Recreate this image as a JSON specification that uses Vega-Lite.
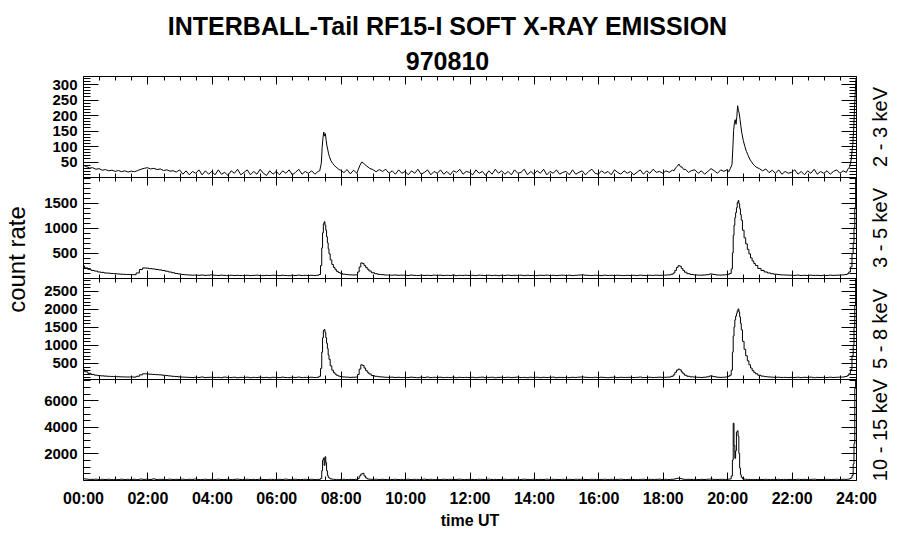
{
"$schema": "https://vega.github.io/schema/vega-lite/v6.json",
"background": "white",
"padding": {"left": 5, "top": 14, "right": 5, "bottom": 5},
"config": {
  "view": {"stroke": null},
  "font": "Liberation Sans",
  "axis": {"domainColor": "black", "tickColor": "black", "labelColor": "black", "titleColor": "black", "grid": false, "labelFont": "Liberation Sans", "titleFont": "Liberation Sans", "labelFontSize": 15, "labelFontWeight": "bold", "tickWidth": 1, "domainWidth": 1, "labels": false, "domain": false, "title": null, "labelFlush": false, "format": "d"}
},
"title": {"text": ["INTERBALL-Tail RF15-I SOFT X-RAY EMISSION", "970810"], "font": "Liberation Sans", "fontSize": 25, "fontWeight": "bold", "color": "black", "lineHeight": 35, "anchor": "middle", "frame": "bounds", "offset": 1},
"datasets": {"d": [
{"t":0.0,"a":38,"b":240,"c":320,"d":110},
{"t":0.1,"a":34,"b":200,"c":255,"d":70},
{"t":0.2,"a":29,"b":172,"c":212,"d":50},
{"t":0.3,"a":30,"b":150,"c":182,"d":45},
{"t":0.4,"a":25,"b":138,"c":162,"d":60},
{"t":0.5,"a":27,"b":120,"c":150,"d":35},
{"t":0.6,"a":22,"b":112,"c":142,"d":50},
{"t":0.7,"a":24,"b":100,"c":136,"d":40},
{"t":0.8,"a":20,"b":97,"c":130,"d":55},
{"t":0.9,"a":22,"b":90,"c":126,"d":30},
{"t":1.0,"a":18,"b":86,"c":122,"d":45},
{"t":1.1,"a":21,"b":80,"c":118,"d":30},
{"t":1.2,"a":17,"b":76,"c":115,"d":60},
{"t":1.3,"a":20,"b":72,"c":112,"d":35},
{"t":1.4,"a":16,"b":70,"c":110,"d":50},
{"t":1.5,"a":19,"b":68,"c":112,"d":40},
{"t":1.6,"a":17,"b":66,"c":108,"d":55},
{"t":1.7,"a":21,"b":100,"c":130,"d":30},
{"t":1.8,"a":25,"b":170,"c":170,"d":70},
{"t":1.9,"a":28,"b":200,"c":200,"d":45},
{"t":2.0,"a":30,"b":195,"c":196,"d":60},
{"t":2.1,"a":26,"b":186,"c":188,"d":40},
{"t":2.2,"a":28,"b":180,"c":182,"d":80},
{"t":2.3,"a":24,"b":170,"c":176,"d":35},
{"t":2.4,"a":26,"b":160,"c":170,"d":50},
{"t":2.5,"a":21,"b":150,"c":160,"d":45},
{"t":2.6,"a":23,"b":135,"c":150,"d":30},
{"t":2.7,"a":19,"b":120,"c":140,"d":60},
{"t":2.8,"a":20,"b":105,"c":130,"d":40},
{"t":2.9,"a":16,"b":90,"c":122,"d":50},
{"t":3.0,"a":23,"b":80,"c":115,"d":35},
{"t":3.1,"a":9,"b":70,"c":108,"d":60},
{"t":3.2,"a":20,"b":64,"c":104,"d":30},
{"t":3.3,"a":7,"b":60,"c":100,"d":50},
{"t":3.4,"a":18,"b":56,"c":96,"d":45},
{"t":3.5,"a":12,"b":58,"c":102,"d":70},
{"t":3.6,"a":23,"b":54,"c":98,"d":35},
{"t":3.7,"a":7,"b":60,"c":110,"d":40},
{"t":3.8,"a":20,"b":52,"c":94,"d":55},
{"t":3.9,"a":9,"b":56,"c":100,"d":30},
{"t":4.0,"a":18,"b":62,"c":105,"d":50},
{"t":4.1,"a":7,"b":54,"c":96,"d":30},
{"t":4.2,"a":23,"b":50,"c":100,"d":60},
{"t":4.3,"a":9,"b":56,"c":92,"d":40},
{"t":4.4,"a":15,"b":52,"c":108,"d":35},
{"t":4.5,"a":5,"b":48,"c":98,"d":55},
{"t":4.6,"a":20,"b":55,"c":95,"d":30},
{"t":4.7,"a":12,"b":50,"c":104,"d":45},
{"t":4.8,"a":25,"b":53,"c":90,"d":65},
{"t":4.9,"a":7,"b":49,"c":100,"d":40},
{"t":5.0,"a":15,"b":50,"c":98,"d":40},
{"t":5.1,"a":23,"b":54,"c":104,"d":55},
{"t":5.2,"a":7,"b":48,"c":92,"d":30},
{"t":5.3,"a":18,"b":52,"c":100,"d":45},
{"t":5.4,"a":9,"b":56,"c":96,"d":35},
{"t":5.5,"a":25,"b":50,"c":106,"d":60},
{"t":5.6,"a":12,"b":47,"c":94,"d":40},
{"t":5.7,"a":5,"b":53,"c":100,"d":30},
{"t":5.8,"a":20,"b":49,"c":90,"d":50},
{"t":5.9,"a":9,"b":55,"c":102,"d":45},
{"t":6.0,"a":18,"b":52,"c":100,"d":35},
{"t":6.1,"a":7,"b":48,"c":94,"d":50},
{"t":6.2,"a":20,"b":55,"c":106,"d":40},
{"t":6.3,"a":12,"b":50,"c":96,"d":65},
{"t":6.4,"a":23,"b":46,"c":92,"d":30},
{"t":6.5,"a":7,"b":54,"c":104,"d":45},
{"t":6.6,"a":15,"b":50,"c":98,"d":55},
{"t":6.7,"a":25,"b":57,"c":108,"d":35},
{"t":6.8,"a":9,"b":49,"c":95,"d":40},
{"t":6.9,"a":18,"b":53,"c":100,"d":50},
{"t":7.0,"a":12,"b":50,"c":98,"d":40},
{"t":7.1,"a":20,"b":54,"c":104,"d":55},
{"t":7.2,"a":9,"b":49,"c":96,"d":35},
{"t":7.3,"a":18,"b":55,"c":102,"d":45},
{"t":7.35,"a":20,"b":70,"c":130,"d":50},
{"t":7.4,"a":45,"b":250,"c":350,"d":120},
{"t":7.425,"a":95,"b":600,"c":800,"d":700},
{"t":7.45,"a":125,"b":900,"c":1200,"d":1500},
{"t":7.475,"a":145,"b":1080,"c":1400,"d":1650},
{"t":7.5,"a":132,"b":1120,"c":1430,"d":1100},
{"t":7.525,"a":140,"b":1050,"c":1350,"d":1750},
{"t":7.55,"a":118,"b":950,"c":1200,"d":1300},
{"t":7.575,"a":100,"b":820,"c":1050,"d":700},
{"t":7.6,"a":88,"b":700,"c":900,"d":350},
{"t":7.625,"a":75,"b":580,"c":720,"d":200},
{"t":7.65,"a":66,"b":480,"c":600,"d":150},
{"t":7.7,"a":52,"b":360,"c":420,"d":80},
{"t":7.75,"a":44,"b":270,"c":300,"d":60},
{"t":7.8,"a":38,"b":210,"c":230,"d":50},
{"t":7.85,"a":32,"b":165,"c":185,"d":40},
{"t":7.9,"a":28,"b":130,"c":155,"d":45},
{"t":7.95,"a":24,"b":110,"c":135,"d":35},
{"t":8.0,"a":22,"b":95,"c":125,"d":40},
{"t":8.1,"a":14,"b":75,"c":112,"d":50},
{"t":8.2,"a":24,"b":68,"c":106,"d":35},
{"t":8.3,"a":10,"b":62,"c":100,"d":45},
{"t":8.4,"a":22,"b":60,"c":104,"d":40},
{"t":8.5,"a":12,"b":62,"c":108,"d":50},
{"t":8.55,"a":25,"b":120,"c":180,"d":100},
{"t":8.6,"a":38,"b":220,"c":330,"d":300},
{"t":8.65,"a":48,"b":300,"c":450,"d":450},
{"t":8.7,"a":46,"b":290,"c":430,"d":500},
{"t":8.75,"a":40,"b":250,"c":360,"d":300},
{"t":8.8,"a":36,"b":210,"c":290,"d":150},
{"t":8.85,"a":32,"b":175,"c":240,"d":80},
{"t":8.9,"a":28,"b":140,"c":195,"d":60},
{"t":9.0,"a":24,"b":105,"c":150,"d":45},
{"t":9.1,"a":17,"b":85,"c":130,"d":55},
{"t":9.2,"a":24,"b":72,"c":118,"d":40},
{"t":9.3,"a":18,"b":66,"c":110,"d":50},
{"t":9.4,"a":25,"b":60,"c":104,"d":35},
{"t":9.5,"a":12,"b":58,"c":100,"d":45},
{"t":9.6,"a":20,"b":56,"c":106,"d":40},
{"t":9.7,"a":9,"b":60,"c":98,"d":55},
{"t":9.8,"a":23,"b":54,"c":102,"d":35},
{"t":9.9,"a":12,"b":57,"c":96,"d":45},
{"t":10.0,"a":18,"b":55,"c":100,"d":40},
{"t":10.1,"a":7,"b":50,"c":95,"d":55},
{"t":10.2,"a":20,"b":58,"c":106,"d":30},
{"t":10.3,"a":12,"b":52,"c":98,"d":50},
{"t":10.4,"a":25,"b":48,"c":92,"d":45},
{"t":10.5,"a":9,"b":56,"c":104,"d":35},
{"t":10.6,"a":15,"b":51,"c":97,"d":60},
{"t":10.7,"a":23,"b":54,"c":108,"d":40},
{"t":10.8,"a":7,"b":49,"c":94,"d":50},
{"t":10.9,"a":18,"b":57,"c":101,"d":30},
{"t":11.0,"a":12,"b":52,"c":98,"d":45},
{"t":11.1,"a":23,"b":56,"c":104,"d":30},
{"t":11.2,"a":9,"b":49,"c":94,"d":55},
{"t":11.3,"a":18,"b":54,"c":100,"d":40},
{"t":11.4,"a":7,"b":50,"c":96,"d":50},
{"t":11.5,"a":20,"b":58,"c":106,"d":35},
{"t":11.6,"a":15,"b":47,"c":92,"d":45},
{"t":11.7,"a":25,"b":53,"c":102,"d":60},
{"t":11.8,"a":9,"b":51,"c":97,"d":30},
{"t":11.9,"a":18,"b":55,"c":100,"d":40},
{"t":12.0,"a":15,"b":50,"c":96,"d":50},
{"t":12.1,"a":7,"b":54,"c":102,"d":40},
{"t":12.2,"a":23,"b":48,"c":92,"d":35},
{"t":12.3,"a":12,"b":56,"c":100,"d":55},
{"t":12.4,"a":18,"b":52,"c":106,"d":45},
{"t":12.5,"a":5,"b":49,"c":94,"d":30},
{"t":12.6,"a":20,"b":55,"c":98,"d":60},
{"t":12.7,"a":9,"b":50,"c":104,"d":40},
{"t":12.8,"a":25,"b":53,"c":90,"d":45},
{"t":12.9,"a":12,"b":47,"c":100,"d":35},
{"t":13.0,"a":20,"b":54,"c":102,"d":40},
{"t":13.1,"a":9,"b":50,"c":96,"d":55},
{"t":13.2,"a":18,"b":57,"c":104,"d":30},
{"t":13.3,"a":7,"b":49,"c":94,"d":45},
{"t":13.4,"a":23,"b":53,"c":100,"d":50},
{"t":13.5,"a":12,"b":51,"c":108,"d":35},
{"t":13.6,"a":15,"b":56,"c":95,"d":40},
{"t":13.7,"a":25,"b":48,"c":100,"d":60},
{"t":13.8,"a":7,"b":55,"c":92,"d":45},
{"t":13.9,"a":18,"b":50,"c":104,"d":30},
{"t":14.0,"a":9,"b":52,"c":98,"d":55},
{"t":14.1,"a":20,"b":48,"c":104,"d":35},
{"t":14.2,"a":12,"b":55,"c":94,"d":45},
{"t":14.3,"a":25,"b":51,"c":102,"d":40},
{"t":14.4,"a":7,"b":57,"c":96,"d":60},
{"t":14.5,"a":18,"b":50,"c":100,"d":30},
{"t":14.6,"a":12,"b":54,"c":106,"d":50},
{"t":14.7,"a":23,"b":49,"c":92,"d":45},
{"t":14.8,"a":9,"b":53,"c":100,"d":35},
{"t":14.9,"a":15,"b":56,"c":98,"d":50},
{"t":15.0,"a":18,"b":50,"c":100,"d":40},
{"t":15.1,"a":7,"b":55,"c":94,"d":50},
{"t":15.2,"a":23,"b":49,"c":102,"d":35},
{"t":15.3,"a":9,"b":53,"c":98,"d":55},
{"t":15.4,"a":15,"b":58,"c":106,"d":45},
{"t":15.5,"a":20,"b":62,"c":112,"d":60},
{"t":15.6,"a":7,"b":56,"c":104,"d":40},
{"t":15.7,"a":18,"b":52,"c":98,"d":30},
{"t":15.8,"a":25,"b":50,"c":95,"d":50},
{"t":15.9,"a":12,"b":54,"c":102,"d":45},
{"t":16.0,"a":9,"b":52,"c":96,"d":35},
{"t":16.1,"a":20,"b":48,"c":104,"d":45},
{"t":16.2,"a":12,"b":56,"c":98,"d":55},
{"t":16.3,"a":18,"b":50,"c":92,"d":40},
{"t":16.4,"a":7,"b":54,"c":100,"d":50},
{"t":16.5,"a":23,"b":49,"c":106,"d":30},
{"t":16.6,"a":15,"b":55,"c":94,"d":45},
{"t":16.7,"a":9,"b":51,"c":102,"d":60},
{"t":16.8,"a":20,"b":47,"c":98,"d":40},
{"t":16.9,"a":12,"b":53,"c":100,"d":35},
{"t":17.0,"a":18,"b":50,"c":102,"d":50},
{"t":17.1,"a":7,"b":54,"c":96,"d":40},
{"t":17.2,"a":15,"b":49,"c":100,"d":30},
{"t":17.3,"a":23,"b":56,"c":108,"d":45},
{"t":17.4,"a":9,"b":52,"c":94,"d":55},
{"t":17.5,"a":20,"b":48,"c":98,"d":35},
{"t":17.6,"a":12,"b":55,"c":104,"d":50},
{"t":17.7,"a":25,"b":51,"c":96,"d":40},
{"t":17.8,"a":15,"b":57,"c":100,"d":45},
{"t":17.9,"a":18,"b":53,"c":106,"d":60},
{"t":18.0,"a":12,"b":55,"c":100,"d":40},
{"t":18.1,"a":20,"b":58,"c":104,"d":50},
{"t":18.2,"a":15,"b":62,"c":108,"d":35},
{"t":18.3,"a":22,"b":75,"c":130,"d":55},
{"t":18.35,"a":20,"b":100,"c":170,"d":60},
{"t":18.4,"a":30,"b":150,"c":240,"d":90},
{"t":18.45,"a":34,"b":210,"c":300,"d":120},
{"t":18.5,"a":42,"b":245,"c":330,"d":130},
{"t":18.55,"a":33,"b":235,"c":310,"d":110},
{"t":18.6,"a":32,"b":190,"c":250,"d":80},
{"t":18.65,"a":24,"b":150,"c":200,"d":60},
{"t":18.7,"a":25,"b":115,"c":160,"d":45},
{"t":18.8,"a":15,"b":85,"c":130,"d":50},
{"t":18.9,"a":21,"b":70,"c":115,"d":40},
{"t":19.0,"a":23,"b":62,"c":108,"d":45},
{"t":19.1,"a":12,"b":58,"c":102,"d":35},
{"t":19.2,"a":20,"b":56,"c":98,"d":50},
{"t":19.3,"a":9,"b":60,"c":104,"d":40},
{"t":19.4,"a":18,"b":66,"c":115,"d":55},
{"t":19.5,"a":27,"b":80,"c":140,"d":70},
{"t":19.6,"a":20,"b":70,"c":120,"d":45},
{"t":19.7,"a":12,"b":60,"c":106,"d":40},
{"t":19.8,"a":23,"b":58,"c":100,"d":50},
{"t":19.9,"a":18,"b":62,"c":104,"d":45},
{"t":20.0,"a":24,"b":66,"c":112,"d":40},
{"t":20.05,"a":17,"b":75,"c":130,"d":60},
{"t":20.1,"a":28,"b":90,"c":160,"d":80},
{"t":20.15,"a":40,"b":180,"c":300,"d":300},
{"t":20.175,"a":90,"b":500,"c":800,"d":1500},
{"t":20.2,"a":150,"b":850,"c":1250,"d":4270},
{"t":20.225,"a":175,"b":1050,"c":1500,"d":2600},
{"t":20.25,"a":185,"b":1200,"c":1700,"d":1630},
{"t":20.275,"a":170,"b":1300,"c":1800,"d":2200},
{"t":20.3,"a":195,"b":1400,"c":1880,"d":3600},
{"t":20.325,"a":230,"b":1500,"c":1950,"d":3700},
{"t":20.35,"a":215,"b":1540,"c":2000,"d":3300},
{"t":20.375,"a":205,"b":1480,"c":1920,"d":2000},
{"t":20.4,"a":185,"b":1380,"c":1780,"d":900},
{"t":20.425,"a":165,"b":1260,"c":1600,"d":400},
{"t":20.45,"a":145,"b":1150,"c":1420,"d":200},
{"t":20.5,"a":118,"b":950,"c":1100,"d":90},
{"t":20.55,"a":98,"b":800,"c":880,"d":60},
{"t":20.6,"a":82,"b":680,"c":700,"d":50},
{"t":20.65,"a":70,"b":570,"c":560,"d":40},
{"t":20.7,"a":58,"b":480,"c":450,"d":45},
{"t":20.75,"a":50,"b":400,"c":360,"d":35},
{"t":20.8,"a":42,"b":340,"c":290,"d":45},
{"t":20.85,"a":37,"b":290,"c":240,"d":40},
{"t":20.9,"a":32,"b":250,"c":200,"d":35},
{"t":21.0,"a":27,"b":190,"c":160,"d":45},
{"t":21.1,"a":20,"b":150,"c":135,"d":40},
{"t":21.2,"a":26,"b":120,"c":120,"d":50},
{"t":21.3,"a":14,"b":100,"c":112,"d":35},
{"t":21.4,"a":22,"b":85,"c":106,"d":45},
{"t":21.5,"a":12,"b":75,"c":102,"d":40},
{"t":21.6,"a":23,"b":68,"c":104,"d":50},
{"t":21.7,"a":9,"b":62,"c":98,"d":35},
{"t":21.8,"a":18,"b":60,"c":100,"d":45},
{"t":21.9,"a":12,"b":57,"c":96,"d":40},
{"t":22.0,"a":15,"b":55,"c":100,"d":45},
{"t":22.1,"a":23,"b":52,"c":96,"d":35},
{"t":22.2,"a":9,"b":58,"c":104,"d":55},
{"t":22.3,"a":18,"b":50,"c":94,"d":40},
{"t":22.4,"a":7,"b":54,"c":102,"d":50},
{"t":22.5,"a":20,"b":49,"c":98,"d":30},
{"t":22.6,"a":12,"b":56,"c":106,"d":45},
{"t":22.7,"a":25,"b":51,"c":92,"d":60},
{"t":22.8,"a":9,"b":53,"c":100,"d":40},
{"t":22.9,"a":18,"b":48,"c":97,"d":35},
{"t":23.0,"a":12,"b":54,"c":100,"d":40},
{"t":23.1,"a":20,"b":50,"c":96,"d":50},
{"t":23.2,"a":9,"b":56,"c":104,"d":35},
{"t":23.3,"a":18,"b":52,"c":98,"d":45},
{"t":23.4,"a":23,"b":55,"c":102,"d":55},
{"t":23.5,"a":12,"b":58,"c":106,"d":40},
{"t":23.6,"a":20,"b":62,"c":110,"d":50},
{"t":23.7,"a":15,"b":70,"c":125,"d":45},
{"t":23.75,"a":26,"b":85,"c":150,"d":60},
{"t":23.8,"a":32,"b":120,"c":200,"d":80},
{"t":23.85,"a":55,"b":220,"c":320,"d":150},
{"t":23.9,"a":105,"b":480,"c":700,"d":350},
{"t":23.925,"a":150,"b":700,"c":1000,"d":1200},
{"t":23.95,"a":210,"b":1000,"c":1500,"d":2740},
{"t":23.975,"a":270,"b":1400,"c":2100,"d":6900},
{"t":24.0,"a":320,"b":2000,"c":2850,"d":7600}
]},
"spacing": 0,
"bounds": "flush",
"vconcat": [
{
  "width": 773, "height": 101,
  "data": {"name": "d"},
  "layer": [
    {"mark": {"type": "line", "color": "black", "strokeWidth": 1, "interpolate": "linear", "clip": true},
     "encoding": {
       "x": {"field": "t", "type": "quantitative", "scale": {"domain": [0, 24], "nice": false}, "axis": {"orient": "bottom", "values": [0,2,4,6,8,10,12,14,16,18,20,22,24], "tickSize": -8, "domain": true}},
       "y": {"field": "a", "type": "quantitative", "scale": {"domain": [0, 326], "nice": false, "zero": false}, "axis": {"orient": "left", "values": [50,100,150,200,250,300], "tickSize": -15, "domain": true, "labels": true, "labelPadding": 21}}
     }},
    {"mark": {"type": "line", "opacity": 0},
     "encoding": {
       "x": {"field": "t", "type": "quantitative", "scale": {"domain": [0, 24], "nice": false}, "axis": {"orient": "bottom", "values": [0.5,1,1.5,2.5,3,3.5,4.5,5,5.5,6.5,7,7.5,8.5,9,9.5,10.5,11,11.5,12.5,13,13.5,14.5,15,15.5,16.5,17,17.5,18.5,19,19.5,20.5,21,21.5,22.5,23,23.5], "tickSize": -4}},
       "y": {"field": "a", "type": "quantitative", "scale": {"domain": [0, 326], "nice": false, "zero": false}, "axis": {"orient": "left", "values": [10,20,30,40,60,70,80,90,110,120,130,140,160,170,180,190,210,220,230,240,260,270,280,290,310,320], "tickSize": -7}}
     }},
    {"mark": {"type": "line", "opacity": 0},
     "encoding": {
       "x": {"field": "t", "type": "quantitative", "scale": {"domain": [0, 24], "nice": false}, "axis": {"orient": "top", "values": [0,2,4,6,8,10,12,14,16,18,20,22,24], "tickSize": -8, "domain": true}},
       "y": {"field": "a", "type": "quantitative", "scale": {"domain": [0, 326], "nice": false, "zero": false}, "axis": {"orient": "right", "values": [50,100,150,200,250,300], "tickSize": -15, "domain": true, "title": "2 - 3 keV", "titleAngle": 270, "titleX": 30, "titleY": 50.5, "titleAlign": "center", "titleBaseline": "alphabetic", "titleFontSize": 20, "titleFontWeight": "normal"}}
     }},
    {"mark": {"type": "line", "opacity": 0},
     "encoding": {
       "x": {"field": "t", "type": "quantitative", "scale": {"domain": [0, 24], "nice": false}, "axis": {"orient": "top", "values": [0.5,1,1.5,2.5,3,3.5,4.5,5,5.5,6.5,7,7.5,8.5,9,9.5,10.5,11,11.5,12.5,13,13.5,14.5,15,15.5,16.5,17,17.5,18.5,19,19.5,20.5,21,21.5,22.5,23,23.5], "tickSize": -4}},
       "y": {"field": "a", "type": "quantitative", "scale": {"domain": [0, 326], "nice": false, "zero": false}, "axis": {"orient": "right", "values": [10,20,30,40,60,70,80,90,110,120,130,140,160,170,180,190,210,220,230,240,260,270,280,290,310,320], "tickSize": -7}}
     }}
  ],
  "resolve": {"axis": {"x": "independent", "y": "independent"}}
},
{
  "width": 773, "height": 101,
  "data": {"name": "d"},
  "layer": [
    {"mark": {"type": "line", "color": "black", "strokeWidth": 1, "interpolate": "step", "clip": true},
     "encoding": {
       "x": {"field": "t", "type": "quantitative", "scale": {"domain": [0, 24], "nice": false}, "axis": {"orient": "bottom", "values": [0,2,4,6,8,10,12,14,16,18,20,22,24], "tickSize": -8, "domain": true}},
       "y": {"field": "b", "type": "quantitative", "scale": {"domain": [0, 2010], "nice": false, "zero": false}, "axis": {"orient": "left", "values": [500,1000,1500], "tickSize": -15, "domain": true, "labels": true, "labelPadding": 21, "title": "count rate", "titleFontSize": 24, "titleFontWeight": "normal", "titleAngle": 270, "titleX": -59, "titleY": 82, "titleAlign": "center", "titleBaseline": "alphabetic"}}
     }},
    {"mark": {"type": "line", "opacity": 0},
     "encoding": {
       "x": {"field": "t", "type": "quantitative", "scale": {"domain": [0, 24], "nice": false}, "axis": {"orient": "bottom", "values": [0.5,1,1.5,2.5,3,3.5,4.5,5,5.5,6.5,7,7.5,8.5,9,9.5,10.5,11,11.5,12.5,13,13.5,14.5,15,15.5,16.5,17,17.5,18.5,19,19.5,20.5,21,21.5,22.5,23,23.5], "tickSize": -4}},
       "y": {"field": "b", "type": "quantitative", "scale": {"domain": [0, 2010], "nice": false, "zero": false}, "axis": {"orient": "left", "values": [100,200,300,400,600,700,800,900,1100,1200,1300,1400,1600,1700,1800,1900,2000], "tickSize": -7}}
     }},
    {"mark": {"type": "line", "opacity": 0},
     "encoding": {
       "x": {"field": "t", "type": "quantitative", "scale": {"domain": [0, 24], "nice": false}, "axis": {"orient": "top", "values": [0,2,4,6,8,10,12,14,16,18,20,22,24], "tickSize": -8, "domain": true}},
       "y": {"field": "b", "type": "quantitative", "scale": {"domain": [0, 2010], "nice": false, "zero": false}, "axis": {"orient": "right", "values": [500,1000,1500], "tickSize": -15, "domain": true, "title": "3 - 5 keV", "titleAngle": 270, "titleX": 30, "titleY": 50.5, "titleAlign": "center", "titleBaseline": "alphabetic", "titleFontSize": 20, "titleFontWeight": "normal"}}
     }},
    {"mark": {"type": "line", "opacity": 0},
     "encoding": {
       "x": {"field": "t", "type": "quantitative", "scale": {"domain": [0, 24], "nice": false}, "axis": {"orient": "top", "values": [0.5,1,1.5,2.5,3,3.5,4.5,5,5.5,6.5,7,7.5,8.5,9,9.5,10.5,11,11.5,12.5,13,13.5,14.5,15,15.5,16.5,17,17.5,18.5,19,19.5,20.5,21,21.5,22.5,23,23.5], "tickSize": -4}},
       "y": {"field": "b", "type": "quantitative", "scale": {"domain": [0, 2010], "nice": false, "zero": false}, "axis": {"orient": "right", "values": [100,200,300,400,600,700,800,900,1100,1200,1300,1400,1600,1700,1800,1900,2000], "tickSize": -7}}
     }}
  ],
  "resolve": {"axis": {"x": "independent", "y": "independent"}}
},
{
  "width": 773, "height": 101,
  "data": {"name": "d"},
  "layer": [
    {"mark": {"type": "line", "color": "black", "strokeWidth": 1, "interpolate": "step", "clip": true},
     "encoding": {
       "x": {"field": "t", "type": "quantitative", "scale": {"domain": [0, 24], "nice": false}, "axis": {"orient": "bottom", "values": [0,2,4,6,8,10,12,14,16,18,20,22,24], "tickSize": -8, "domain": true}},
       "y": {"field": "c", "type": "quantitative", "scale": {"domain": [55, 2860], "nice": false, "zero": false}, "axis": {"orient": "left", "values": [500,1000,1500,2000,2500], "tickSize": -15, "domain": true, "labels": true, "labelPadding": 21}}
     }},
    {"mark": {"type": "line", "opacity": 0},
     "encoding": {
       "x": {"field": "t", "type": "quantitative", "scale": {"domain": [0, 24], "nice": false}, "axis": {"orient": "bottom", "values": [0.5,1,1.5,2.5,3,3.5,4.5,5,5.5,6.5,7,7.5,8.5,9,9.5,10.5,11,11.5,12.5,13,13.5,14.5,15,15.5,16.5,17,17.5,18.5,19,19.5,20.5,21,21.5,22.5,23,23.5], "tickSize": -4}},
       "y": {"field": "c", "type": "quantitative", "scale": {"domain": [55, 2860], "nice": false, "zero": false}, "axis": {"orient": "left", "values": [100,200,300,400,600,700,800,900,1100,1200,1300,1400,1600,1700,1800,1900,2100,2200,2300,2400,2600,2700,2800], "tickSize": -7}}
     }},
    {"mark": {"type": "line", "opacity": 0},
     "encoding": {
       "x": {"field": "t", "type": "quantitative", "scale": {"domain": [0, 24], "nice": false}, "axis": {"orient": "top", "values": [0,2,4,6,8,10,12,14,16,18,20,22,24], "tickSize": -8, "domain": true}},
       "y": {"field": "c", "type": "quantitative", "scale": {"domain": [55, 2860], "nice": false, "zero": false}, "axis": {"orient": "right", "values": [500,1000,1500,2000,2500], "tickSize": -15, "domain": true, "title": "5 - 8 keV", "titleAngle": 270, "titleX": 30, "titleY": 50.5, "titleAlign": "center", "titleBaseline": "alphabetic", "titleFontSize": 20, "titleFontWeight": "normal"}}
     }},
    {"mark": {"type": "line", "opacity": 0},
     "encoding": {
       "x": {"field": "t", "type": "quantitative", "scale": {"domain": [0, 24], "nice": false}, "axis": {"orient": "top", "values": [0.5,1,1.5,2.5,3,3.5,4.5,5,5.5,6.5,7,7.5,8.5,9,9.5,10.5,11,11.5,12.5,13,13.5,14.5,15,15.5,16.5,17,17.5,18.5,19,19.5,20.5,21,21.5,22.5,23,23.5], "tickSize": -4}},
       "y": {"field": "c", "type": "quantitative", "scale": {"domain": [55, 2860], "nice": false, "zero": false}, "axis": {"orient": "right", "values": [100,200,300,400,600,700,800,900,1100,1200,1300,1400,1600,1700,1800,1900,2100,2200,2300,2400,2600,2700,2800], "tickSize": -7}}
     }}
  ],
  "resolve": {"axis": {"x": "independent", "y": "independent"}}
},
{
  "width": 773, "height": 101,
  "data": {"name": "d"},
  "layer": [
    {"mark": {"type": "line", "color": "black", "strokeWidth": 1, "interpolate": "step", "clip": true},
     "encoding": {
       "x": {"field": "t", "type": "quantitative", "scale": {"domain": [0, 24], "nice": false}, "axis": {"orient": "bottom", "values": [0,2,4,6,8,10,12,14,16,18,20,22,24], "tickSize": -8, "domain": true, "labels": true, "labelPadding": 18, "labelFontSize": 16, "labelExpr": "(datum.value < 10 ? '0' : '') + datum.value + ':00'", "title": "time UT", "titleFontSize": 16, "titleFontWeight": "bold", "titlePadding": 6}},
       "y": {"field": "d", "type": "quantitative", "scale": {"domain": [0, 7600], "nice": false, "zero": false}, "axis": {"orient": "left", "values": [2000,4000,6000], "tickSize": -15, "domain": true, "labels": true, "labelPadding": 21}}
     }},
    {"mark": {"type": "line", "opacity": 0},
     "encoding": {
       "x": {"field": "t", "type": "quantitative", "scale": {"domain": [0, 24], "nice": false}, "axis": {"orient": "bottom", "values": [0.5,1,1.5,2.5,3,3.5,4.5,5,5.5,6.5,7,7.5,8.5,9,9.5,10.5,11,11.5,12.5,13,13.5,14.5,15,15.5,16.5,17,17.5,18.5,19,19.5,20.5,21,21.5,22.5,23,23.5], "tickSize": -4}},
       "y": {"field": "d", "type": "quantitative", "scale": {"domain": [0, 7600], "nice": false, "zero": false}, "axis": {"orient": "left", "values": [500,1000,1500,2500,3000,3500,4500,5000,5500,6500,7000,7500], "tickSize": -7}}
     }},
    {"mark": {"type": "line", "opacity": 0},
     "encoding": {
       "x": {"field": "t", "type": "quantitative", "scale": {"domain": [0, 24], "nice": false}, "axis": {"orient": "top", "values": [0,2,4,6,8,10,12,14,16,18,20,22,24], "tickSize": -8, "domain": true}},
       "y": {"field": "d", "type": "quantitative", "scale": {"domain": [0, 7600], "nice": false, "zero": false}, "axis": {"orient": "right", "values": [2000,4000,6000], "tickSize": -15, "domain": true, "title": "10 - 15 keV", "titleAngle": 270, "titleX": 30, "titleY": 50.5, "titleAlign": "center", "titleBaseline": "alphabetic", "titleFontSize": 20, "titleFontWeight": "normal"}}
     }},
    {"mark": {"type": "line", "opacity": 0},
     "encoding": {
       "x": {"field": "t", "type": "quantitative", "scale": {"domain": [0, 24], "nice": false}, "axis": {"orient": "top", "values": [0.5,1,1.5,2.5,3,3.5,4.5,5,5.5,6.5,7,7.5,8.5,9,9.5,10.5,11,11.5,12.5,13,13.5,14.5,15,15.5,16.5,17,17.5,18.5,19,19.5,20.5,21,21.5,22.5,23,23.5], "tickSize": -4}},
       "y": {"field": "d", "type": "quantitative", "scale": {"domain": [0, 7600], "nice": false, "zero": false}, "axis": {"orient": "right", "values": [500,1000,1500,2500,3000,3500,4500,5000,5500,6500,7000,7500], "tickSize": -7}}
     }}
  ],
  "resolve": {"axis": {"x": "independent", "y": "independent"}}
}
]
}
